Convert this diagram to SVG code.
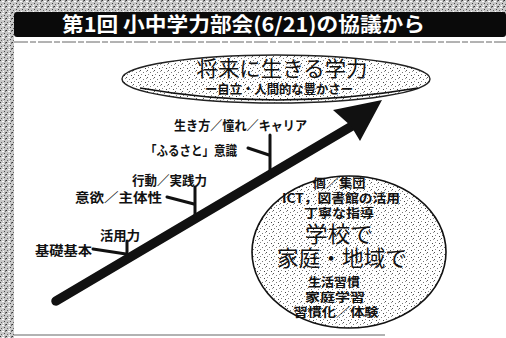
<svg xmlns="http://www.w3.org/2000/svg" width="506" height="338" viewBox="0 0 506 338">
  <defs>
    <pattern id="stip" width="7" height="7" patternUnits="userSpaceOnUse">
      <rect width="7" height="7" fill="#fff"/>
      <rect x="0" y="0" width="1" height="1" fill="#555"/>
      <rect x="3" y="2" width="1" height="1" fill="#777"/>
      <rect x="5" y="5" width="1" height="1" fill="#444"/>
      <rect x="1" y="4" width="1" height="1" fill="#888"/>
      <rect x="6" y="1" width="1" height="1" fill="#999"/>
    </pattern>
    <pattern id="noise" width="6" height="6" patternUnits="userSpaceOnUse">
      <rect width="6" height="6" fill="#c8c8c8"/>
      <rect x="0" y="0" width="1" height="1" fill="#333"/>
      <rect x="2" y="1" width="2" height="1" fill="#fff"/>
      <rect x="4" y="3" width="1" height="1" fill="#444"/>
      <rect x="1" y="4" width="1" height="1" fill="#666"/>
      <rect x="3" y="5" width="1" height="1" fill="#fff"/>
      <rect x="5" y="0" width="1" height="2" fill="#777"/>
    </pattern>
    <style>
      .lbl { font-family: "Noto Sans CJK JP", sans-serif; font-weight: bold; font-size: 13px; fill: #111; }
      .sm { font-family: "Noto Sans CJK JP", sans-serif; font-weight: bold; font-size: 12.5px; fill: #111; }
      .big { font-family: "Noto Sans CJK JP", sans-serif; font-size: 21px; fill: #111; }
      .tick { stroke: #111; stroke-width: 3; fill: none; stroke-linecap: round; }
    </style>
  </defs>

  <rect width="506" height="338" fill="#fff"/>
  <!-- scanned border bands -->
  <rect x="0" y="0" width="14" height="338" fill="url(#noise)"/>
  <rect x="14" y="0" width="492" height="13" fill="url(#noise)"/>
  <line x1="14" y1="42" x2="506" y2="42" stroke="#666" stroke-width="1" stroke-dasharray="14 2 6 2"/>
  <line x1="14" y1="335" x2="385" y2="335" stroke="#666" stroke-width="1.2"/>

  <g id="title">
    <rect x="14" y="12" width="492" height="25" rx="3" fill="#0a0a0a"/>
    <text x="62" y="31.5" textLength="363" lengthAdjust="spacingAndGlyphs" style="font-family:'Noto Sans CJK JP',sans-serif;font-weight:bold;font-size:20px;fill:#fff">第1回 小中学力部会(6/21)の協議から</text>
  </g>

  <g id="goal">
    <ellipse cx="276" cy="79" rx="154" ry="24" fill="url(#stip)" stroke="#222" stroke-width="1.4"/>
    <path d="M140 88 Q276 112 418 88" fill="none" stroke="#111" stroke-width="1.6"/>
    <text class="big" x="282" y="76" text-anchor="middle" textLength="171" lengthAdjust="spacingAndGlyphs">将来に生きる学力</text>
    <text class="sm" x="279" y="94" text-anchor="middle" textLength="148" lengthAdjust="spacingAndGlyphs">ー自立・人間的な豊かさー</text>
  </g>

  <g id="connectors">
    <line x1="56" y1="301" x2="352" y2="126" stroke="#111" stroke-width="9.5" stroke-linecap="round"/>
    <polygon points="382,100 333,110 351,126 360,141" fill="#111"/>
    <line class="tick" x1="127" y1="241" x2="127" y2="258"/>
    <path class="tick" d="M93 249 L126 254" stroke-width="2.6"/>
    <line class="tick" x1="195" y1="187" x2="195" y2="218"/>
    <path class="tick" d="M167 197 L194 204" stroke-width="2.6"/>
    <line class="tick" x1="270" y1="135" x2="270" y2="176"/>
    <path class="tick" d="M248 148 L269 155" stroke-width="2.6"/>
  </g>

  <g id="label-kiso"><text class="lbl" x="92" y="255" text-anchor="end" textLength="57" lengthAdjust="spacingAndGlyphs">基礎基本</text></g>
  <g id="label-katsuyo"><text class="lbl" x="100" y="240" textLength="40" lengthAdjust="spacingAndGlyphs">活用力</text></g>
  <g id="label-iyoku"><text class="lbl" x="75" y="202" textLength="87" lengthAdjust="spacingAndGlyphs">意欲／主体性</text></g>
  <g id="label-kodo"><text class="lbl" x="132" y="185" textLength="75" lengthAdjust="spacingAndGlyphs">行動／実践力</text></g>
  <g id="label-furusato"><text class="lbl" x="145" y="155" textLength="92" lengthAdjust="spacingAndGlyphs">「ふるさと」意識</text></g>
  <g id="label-ikikata"><text class="lbl" x="174" y="130" textLength="133" lengthAdjust="spacingAndGlyphs">生き方／憧れ／キャリア</text></g>

  <g id="school">
    <ellipse cx="349" cy="252" rx="97" ry="76" fill="url(#stip)" stroke="#111" stroke-width="1.6"/>
    <text class="sm" x="339" y="188" text-anchor="middle" textLength="53" lengthAdjust="spacingAndGlyphs">個／集団</text>
    <text class="sm" x="341" y="203" text-anchor="middle" textLength="118" lengthAdjust="spacingAndGlyphs">ICT，図書館の活用</text>
    <text class="sm" x="339" y="218" text-anchor="middle" textLength="70" lengthAdjust="spacingAndGlyphs">丁寧な指導</text>
    <text class="big" x="339" y="242" text-anchor="middle" style="font-size:22px" textLength="68" lengthAdjust="spacingAndGlyphs">学校で</text>
    <text class="big" x="342" y="266" text-anchor="middle" style="font-size:22px" textLength="130" lengthAdjust="spacingAndGlyphs">家庭・地域で</text>
    <text class="sm" x="334" y="287" text-anchor="middle" textLength="52" lengthAdjust="spacingAndGlyphs">生活習慣</text>
    <text class="sm" x="335" y="302" text-anchor="middle" textLength="60" lengthAdjust="spacingAndGlyphs">家庭学習</text>
    <text class="sm" x="336" y="317" text-anchor="middle" textLength="85" lengthAdjust="spacingAndGlyphs">習慣化／体験</text>
  </g>
</svg>
